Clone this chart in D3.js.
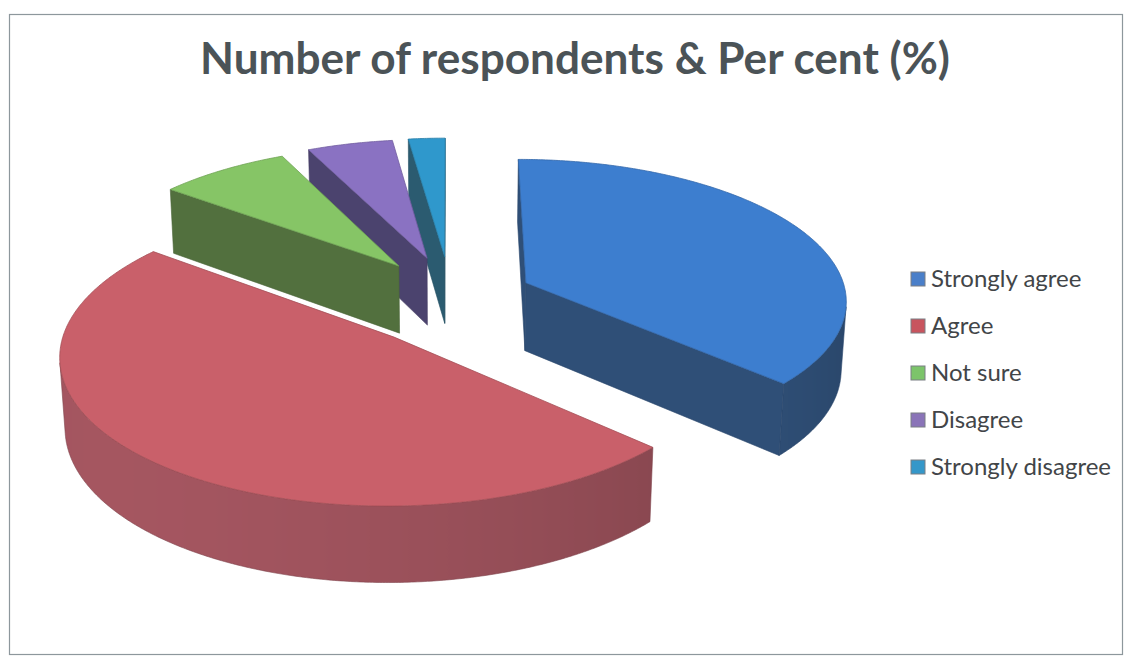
<!DOCTYPE html>
<html>
<head>
<meta charset="utf-8">
<script src="https://cdn.jsdelivr.net/npm/d3@7"></script>
<style>
  body { margin: 0; background: #ffffff; }
  svg { display: block; }
</style>
</head>
<body>
<svg id="chart" width="1126" height="657"></svg>
<script>
// Survey answers, share of respondents in per cent
const categories = ["Strongly agree", "Agree", "Not sure", "Disagree", "Strongly disagree"];
const percentValues = [36.9, 48.6, 7.5, 4.9, 2.1];
const titleText = "Number of respondents & Per cent (%)";

// Colours: lit top face, shaded cut faces, legend keys
const topColors = ["#3d7ecf", "#c9606a", "#86c566", "#8a72c2", "#2f98cc"];
const sideColors = ["#2f4f77", "#8e4a53", "#52703e", "#4b436e", "#2b5b70"];
const legendColors = ["#4a7fc9", "#c8545e", "#7cc46a", "#8a74b8", "#3597c9"];

const W = 1126, H = 657;
const svg = d3.select("#chart");

// Chart frame
svg.append("rect")
  .attr("x", 9.5).attr("y", 14.5)
  .attr("width", W - 13).attr("height", H - 17)
  .attr("fill", "#ffffff")
  .attr("stroke", "#8d979c").attr("stroke-width", 1.2);

// ---- 3D exploded pie ----
const view = {
  cx: 450, cy: 301,        // screen position of the pie centre (top face)
  scale: 322,              // pixels per radius at the centre depth
  tilt: 26 * Math.PI / 180,
  dist: 8,                 // camera distance in radii
  depth: 0.24,             // slab thickness in radii
  explode: 0.261,
  explodeBack: 1.25
};

const sinT = Math.sin(view.tilt), cosT = Math.cos(view.tilt);
const cam = [0, -view.dist * cosT, view.dist * sinT];

function project(p) {
  const [X, Y, Z] = p;
  const yv = Y * sinT + Z * cosT;
  const d = Y * cosT - Z * sinT;
  const k = view.dist / (view.dist + d);
  return [view.cx + view.scale * X * k, view.cy - view.scale * yv * k];
}

const pieGen = d3.pie().sort(null).value(d => d)
  .startAngle(0).endAngle(2 * Math.PI);
const arcs = pieGen(percentValues);

const slices = arcs.map((a, i) => {
  const mid = (a.startAngle + a.endAngle) / 2;
  return {
    a0: a.startAngle, a1: a.endAngle, i,
    ox: view.explode * Math.sin(mid),
    oy: view.explode * view.explodeBack * Math.cos(mid)
  };
});
// far slices first
slices.sort((a, b) => b.oy - a.oy);

const pt = (s, r, t, z) => [s.ox + r * Math.sin(t), s.oy + r * Math.cos(t), z];
const facing = (p, n) =>
  (cam[0] - p[0]) * n[0] + (cam[1] - p[1]) * n[1] + (cam[2] - p[2]) * n[2] > 0;
const poly = pts => "M" + pts.map(p => p[0].toFixed(2) + "," + p[1].toFixed(2)).join("L") + "Z";

const light = [-0.8, -0.6];
const defs = svg.append("defs");
const pieG = svg.append("g").attr("class", "pie");

function shade(color, f) {
  const c = d3.rgb(color);
  return d3.rgb(Math.min(255, c.r * f), Math.min(255, c.g * f), Math.min(255, c.b * f)).formatHex();
}

slices.forEach(s => {
  const g = pieG.append("g").attr("class", "slice slice-" + s.i);
  const zb = -view.depth;
  const side = sideColors[s.i];

  // outer rim, drawn only where it faces the camera
  const steps = Math.max(4, Math.ceil((s.a1 - s.a0) / (Math.PI / 360)));
  const samples = d3.range(steps + 1).map(j => {
    const t = s.a0 + (s.a1 - s.a0) * j / steps;
    const n = [Math.sin(t), Math.cos(t), 0];
    return { t, top: pt(s, 1, t, 0), bot: pt(s, 1, t, zb),
             vis: facing(pt(s, 1, t, zb / 2), n),
             f: 1 + 0.16 * (n[0] * light[0] + n[1] * light[1]) };
  });
  const runs = [];
  let cur = null;
  samples.forEach(sm => {
    if (sm.vis) { if (!cur) { cur = []; runs.push(cur); } cur.push(sm); }
    else cur = null;
  });
  runs.forEach((run, r) => {
    if (run.length < 2) return;
    const topP = run.map(sm => project(sm.top));
    const botP = run.map(sm => project(sm.bot));
    const xs = topP.map(p => p[0]);
    const x0 = d3.min(xs), x1 = d3.max(xs);
    const id = "rim-" + s.i + "-" + r;
    const grad = defs.append("linearGradient").attr("id", id)
      .attr("gradientUnits", "userSpaceOnUse")
      .attr("x1", x0).attr("x2", x1).attr("y1", 0).attr("y2", 0);
    const stops = run.map((sm, j) => ({ o: (xs[j] - x0) / Math.max(1e-6, x1 - x0), c: shade(side, sm.f) }))
      .sort((a, b) => a.o - b.o);
    grad.selectAll("stop").data(stops).enter().append("stop")
      .attr("offset", d => d.o).attr("stop-color", d => d.c);
    g.append("path")
      .attr("d", poly(topP.concat(botP.reverse())))
      .attr("fill", "url(#" + id + ")")
      .attr("stroke", shade(side, 0.9)).attr("stroke-width", 0.6);
  });

  // radial cut faces
  [[s.a0, [-Math.cos(s.a0), Math.sin(s.a0), 0]],
   [s.a1, [Math.cos(s.a1), -Math.sin(s.a1), 0]]].forEach(([t, n]) => {
    if (!facing(pt(s, 0.5, t, zb / 2), n)) return;
    const quad = [pt(s, 0, 0, 0), pt(s, 1, t, 0), pt(s, 1, t, zb), pt(s, 0, 0, zb)].map(project);
    g.append("path")
      .attr("d", poly(quad))
      .attr("fill", side)
      .attr("stroke", shade(side, 0.9)).attr("stroke-width", 0.6);
  });

  // top face
  const topSteps = Math.max(4, Math.ceil((s.a1 - s.a0) / (Math.PI / 360)));
  const topPts = [pt(s, 0, 0, 0)].concat(
    d3.range(topSteps + 1).map(j => pt(s, 1, s.a0 + (s.a1 - s.a0) * j / topSteps, 0))
  ).map(project);
  g.append("path")
    .attr("d", poly(topPts))
    .attr("fill", topColors[s.i])
    .attr("stroke", shade(topColors[s.i], 0.82)).attr("stroke-width", 0.8)
    .attr("stroke-linejoin", "round");
});

// ---- Title ----
function fitText(sel, width) {
  const len = sel.node().getComputedTextLength();
  const size = parseFloat(sel.attr("font-size"));
  sel.attr("font-size", (size * width / len).toFixed(2));
}
const title = svg.append("text")
  .attr("x", 575).attr("y", 74)
  .attr("text-anchor", "middle")
  .attr("font-family", "Lato, 'Open Sans', sans-serif")
  .attr("font-weight", 700)
  .attr("font-size", 40)
  .attr("fill", "#4b5357")
  .text(titleText);
fitText(title, 750);

// ---- Legend ----
const legendX = 911, legendTop = 279, legendStep = 47;
const legend = svg.append("g").attr("class", "legend");
const items = legend.selectAll("g").data(categories).enter().append("g")
  .attr("transform", (d, i) => `translate(${legendX},${legendTop + i * legendStep})`);
items.append("rect")
  .attr("x", 0).attr("y", -7).attr("width", 14).attr("height", 14)
  .attr("fill", (d, i) => legendColors[i])
  .attr("stroke", "#7a7f84").attr("stroke-width", 1);
const labels = items.append("text")
  .attr("x", 20).attr("y", 0)
  .attr("dy", "0.34em")
  .attr("font-family", "Lato, 'Open Sans', sans-serif")
  .attr("font-size", 22)
  .attr("fill", "#424548")
  .text(d => d);
// size the legend font so the longest label spans its column
const longest = labels.filter(d => d === "Strongly disagree");
const lsize = 22 * 180 / longest.node().getComputedTextLength();
labels.attr("font-size", lsize.toFixed(2));
</script>
</body>
</html>
